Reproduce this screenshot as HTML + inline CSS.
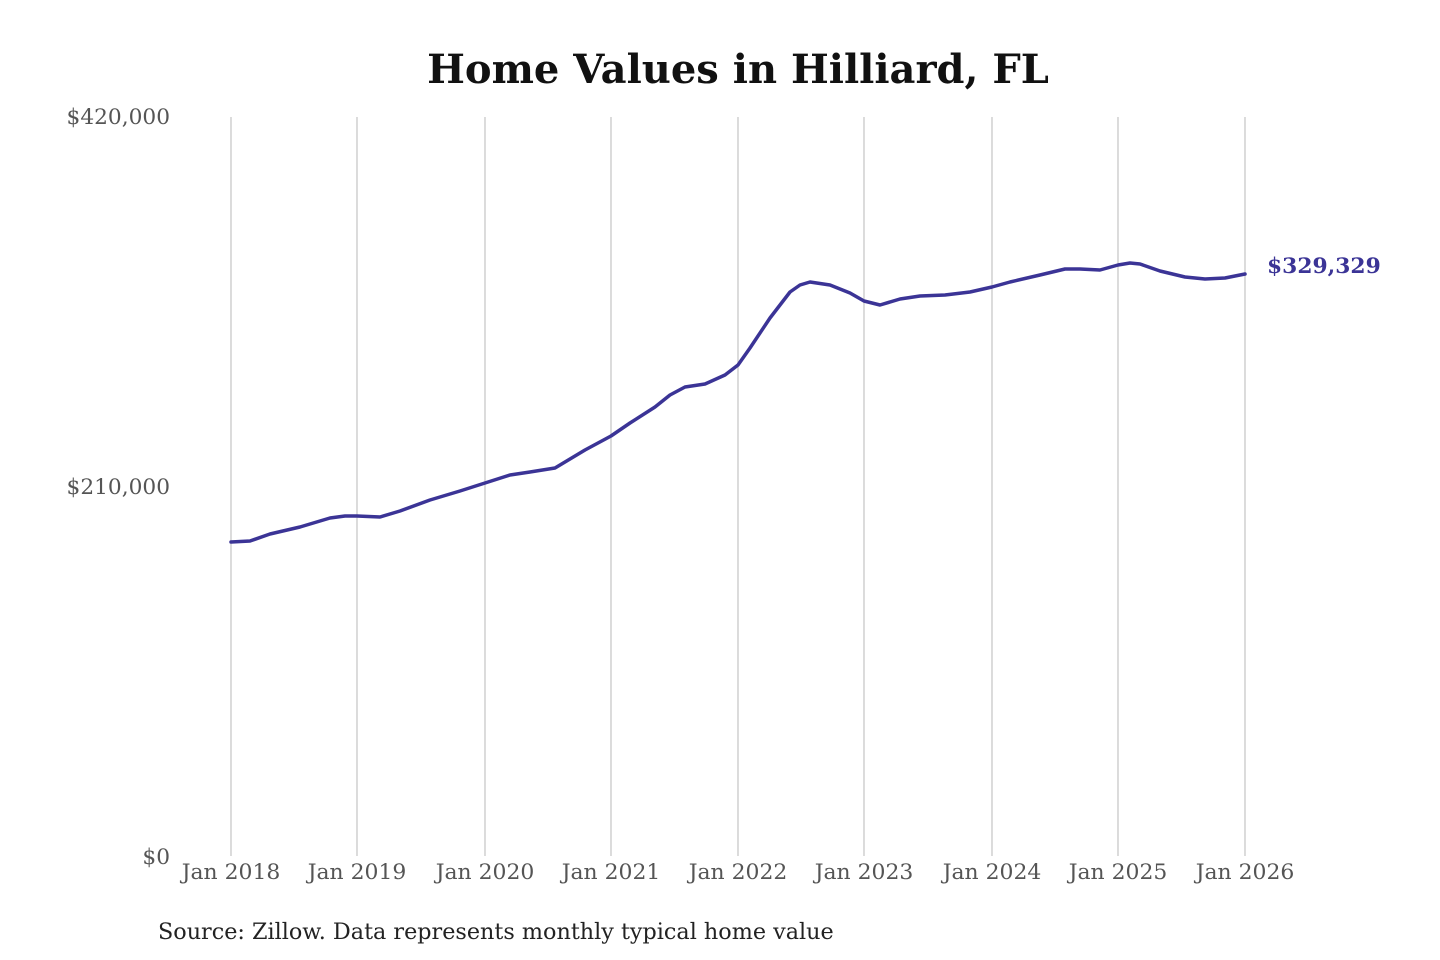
<!DOCTYPE html>
<html><head><meta charset="utf-8"><style>
html,body{margin:0;padding:0;background:#fff;}
svg{display:block;}
text{font-family:"DejaVu Serif","Liberation Serif",serif;}
</style></head><body>
<svg width="1440" height="960" viewBox="0 0 1440 960" xmlns="http://www.w3.org/2000/svg">
<rect width="1440" height="960" fill="#fff"/>
<text x="738" y="83" text-anchor="middle" font-size="40" font-weight="bold" fill="#111">Home Values in Hilliard, FL</text>
<g stroke="#c8c8c8" stroke-width="1.3">
<line x1="231" y1="117" x2="231" y2="856"/>
<line x1="357" y1="117" x2="357" y2="856"/>
<line x1="485" y1="117" x2="485" y2="856"/>
<line x1="611" y1="117" x2="611" y2="856"/>
<line x1="738" y1="117" x2="738" y2="856"/>
<line x1="864" y1="117" x2="864" y2="856"/>
<line x1="992" y1="117" x2="992" y2="856"/>
<line x1="1118" y1="117" x2="1118" y2="856"/>
<line x1="1245" y1="117" x2="1245" y2="856"/>
</g>
<g font-size="21.7" fill="#555" text-anchor="end">
<text x="170" y="124">$420,000</text>
<text x="170" y="494">$210,000</text>
<text x="170" y="864">$0</text>
</g>
<g font-size="21.9" fill="#555" text-anchor="middle">
<text x="231" y="879">Jan 2018</text>
<text x="357" y="879">Jan 2019</text>
<text x="485" y="879">Jan 2020</text>
<text x="611" y="879">Jan 2021</text>
<text x="738" y="879">Jan 2022</text>
<text x="864" y="879">Jan 2023</text>
<text x="992" y="879">Jan 2024</text>
<text x="1118" y="879">Jan 2025</text>
<text x="1245" y="879">Jan 2026</text>
</g>
<polyline fill="none" stroke="#3b3496" stroke-width="3.5" stroke-linejoin="round" stroke-linecap="round"
points="231,542 250,541 270,534 300,527 330,518 345,516 357,516 380,517 400,511 430,500 460,491 485,483 510,475 530,472 555,468 585,450 611,436 630,423 655,407 670,395 685,387 705,384 725,375 738,365 750,348 770,318 790,292 800,285 810,282 830,285 850,293 864,301 880,305 900,299 920,296 945,295 970,292 992,287 1010,282 1040,275 1065,269 1080,269 1100,270 1118,265 1130,263 1140,264 1160,271 1185,277 1205,279 1225,278 1245,274"/>
<text x="1267" y="273" font-size="21.8" font-weight="bold" fill="#3b3496">$329,329</text>
<text x="158" y="939" font-size="22.3" fill="#222">Source: Zillow. Data represents monthly typical home value</text>
</svg>
</body></html>
